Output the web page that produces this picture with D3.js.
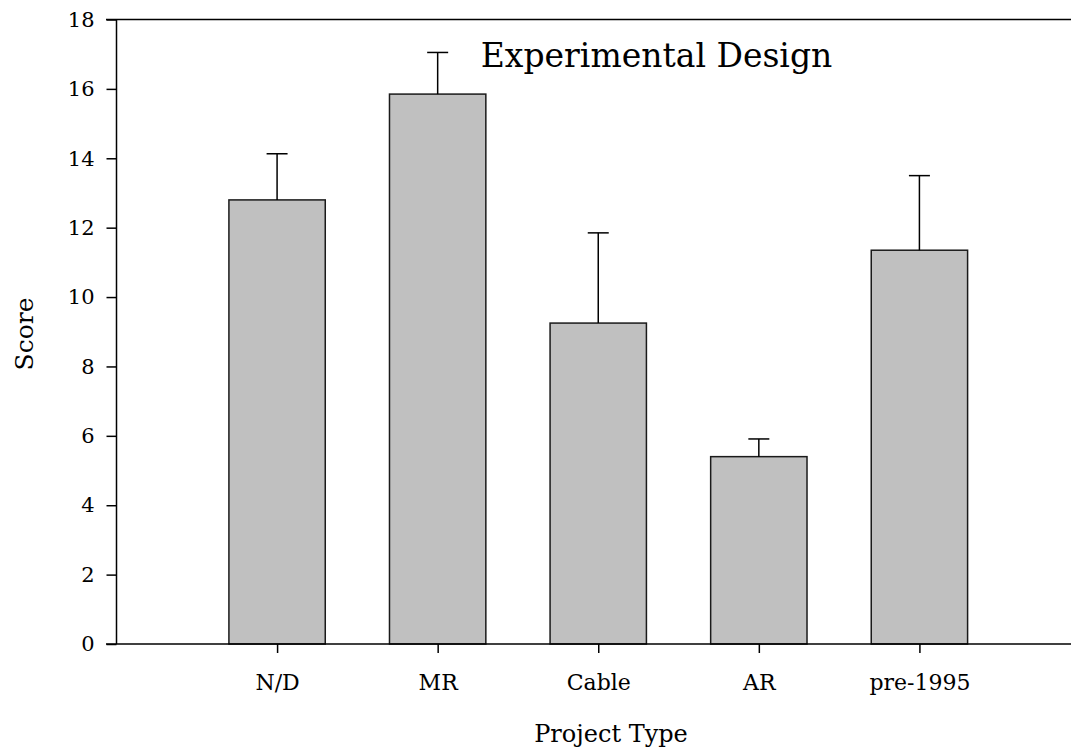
<!DOCTYPE html>
<html>
<head>
<meta charset="utf-8">
<script src="https://cdn.jsdelivr.net/npm/d3@7"></script>
<style>
  html, body { margin: 0; padding: 0; background: #fff; }
  svg { display: block; }
  text { font-family: "DejaVu Serif", serif; fill: #000; }
</style>
</head>
<body>
<svg id="chart" width="1071" height="755"></svg>
<script>
const categories = ["N/D", "MR", "Cable", "AR", "pre-1995"];
const means = [12.8, 15.85, 9.25, 5.4, 11.35];
const upperErrors = [14.13, 17.05, 11.85, 5.91, 13.5];
const yTicks = [0, 2, 4, 6, 8, 10, 12, 14, 16, 18];
const title = "Experimental Design";
const xTitle = "Project Type";
const yTitle = "Score";

const svg = d3.select("#chart");
const plotLeft = 116.5, plotRight = 1080, plotTop = 19.5, plotBottom = 644;

const x = d3.scalePoint().domain(categories).range([plotLeft, plotRight]).padding(1);
const y = d3.scaleLinear().domain([0, 18]).range([plotBottom, plotTop]);
const barW = x.step() * 0.6;
const capW = 21;

// top frame line extending right
svg.append("line").attr("x1", plotLeft - 10.5).attr("x2", 1071).attr("y1", plotTop).attr("y2", plotTop)
  .attr("stroke", "#000").attr("stroke-width", 1.5);

// bars
svg.append("g").selectAll("rect").data(categories).join("rect")
  .attr("x", d => x(d) - barW / 2)
  .attr("y", (d, i) => y(means[i]))
  .attr("width", barW)
  .attr("height", (d, i) => y(0) - y(means[i]))
  .attr("fill", "#c0c0c0")
  .attr("stroke", "#1a1a1a")
  .attr("stroke-width", 1.5);

// error bars
const eb = svg.append("g").attr("stroke", "#000").attr("stroke-width", 1.5);
categories.forEach((c, i) => {
  eb.append("line").attr("x1", x(c)).attr("x2", x(c)).attr("y1", y(means[i])).attr("y2", y(upperErrors[i]));
  eb.append("line").attr("x1", x(c) - capW / 2).attr("x2", x(c) + capW / 2).attr("y1", y(upperErrors[i])).attr("y2", y(upperErrors[i]));
});

// bottom axis line
svg.append("line").attr("x1", plotLeft - 10.5).attr("x2", 1071).attr("y1", plotBottom).attr("y2", plotBottom)
  .attr("stroke", "#000").attr("stroke-width", 1.5);

// y axis
const yAxis = svg.append("g").attr("transform", `translate(${plotLeft},0)`)
  .call(d3.axisLeft(y).tickValues(yTicks).tickSize(10).tickPadding(12).tickFormat(d3.format("d")));
yAxis.select(".domain").attr("stroke", "#000").attr("stroke-width", 1.5).attr("d", `M0,${plotTop}V${plotBottom}`);
yAxis.selectAll(".tick line").attr("stroke", "#000").attr("stroke-width", 1.5);
yAxis.selectAll(".tick text").attr("font-size", 21).attr("font-family", "DejaVu Serif").attr("fill", "#000");

// x axis
const xAxis = svg.append("g").attr("transform", `translate(0,${plotBottom})`)
  .call(d3.axisBottom(x).tickSize(9).tickPadding(21));
xAxis.select(".domain").remove();
xAxis.selectAll(".tick line").attr("stroke", "#000").attr("stroke-width", 1.5);
xAxis.selectAll(".tick text").attr("font-size", 22).attr("font-family", "DejaVu Serif").attr("fill", "#000");

// titles
svg.append("text").attr("x", 656.5).attr("y", 67).attr("text-anchor", "middle")
  .attr("font-size", 33).text(title);
svg.append("text").attr("x", 611).attr("y", 742).attr("text-anchor", "middle")
  .attr("font-size", 24).text(xTitle);
svg.append("text").attr("transform", "translate(33,334) rotate(-90)").attr("text-anchor", "middle")
  .attr("font-size", 25).text(yTitle);
</script>
</body>
</html>
